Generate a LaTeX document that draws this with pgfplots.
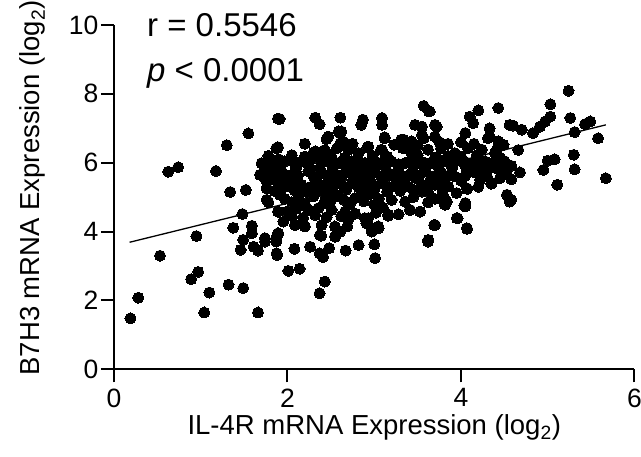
\documentclass[border=0pt]{standalone}
\usepackage{fontspec}
\setmainfont{Liberation Sans}
\usepackage{pgfplots}
\pgfplotsset{compat=1.18}
\begin{document}
\begin{tikzpicture}
\begin{axis}[
  scale only axis, width=520.5pt, height=344.3pt,
  xmin=0, xmax=6, ymin=0, ymax=10,
  axis lines*=left,
  xtick={0,2,4,6}, ytick={0,2,4,6,8,10},
  tick align=outside, major tick length=13pt,
  every tick/.style={line width=2pt, black},
  axis line style={line width=2pt, black},
  /pgf/number format/assume math mode=true,
  ticklabel style={font=\fontsize{26.5}{32}\selectfont},
  yticklabel style={inner sep=2.5pt},
  xticklabel style={inner sep=2pt, yshift=-4pt},
  xlabel={IL-4R mRNA Expression (log\textsubscript{2})},
  ylabel={B7H3 mRNA Expression (log\textsubscript{2})},
  label style={font=\fontsize{27.5}{33}\selectfont},
  xlabel style={at={(axis description cs:0.5,-0.19)}, anchor=base},
  ylabel style={at={(axis description cs:-0.1422,0.5266)}, anchor=base},
  clip=false,
]
\addplot[only marks, mark=*, mark size=5.5pt, mark options={fill=black, draw=black, line width=0pt}] coordinates {
(0.19,1.48) (0.28,2.08) (0.53,3.30) (0.625,5.74) (0.74,5.87) (0.89,2.62) (0.95,3.87) (0.97,2.83)
(1.04,1.65) (1.10,2.23) (1.175,5.76) (1.30,6.51) (1.32,2.46) (1.34,5.15) (1.375,4.11) (1.46,3.47)
(1.48,4.51) (1.49,3.76) (1.49,2.36) (1.52,5.21) (1.55,6.85) (1.59,4.17) (1.59,3.95) (1.61,3.56)
(1.66,3.45) (1.66,1.65) (1.74,3.71) (1.76,5.27) (1.76,4.92) (1.78,4.85) (1.875,3.85) (1.875,3.37)
(1.89,4.58) (1.87,6.42) (1.89,7.28) (1.88,3.32) (2.01,2.86) (2.14,2.92) (2.08,3.50) (2.26,3.56)
(2.37,3.37) (2.41,3.26) (2.37,2.21) (2.43,2.55) (2.48,3.52) (2.67,3.45) (2.82,3.61) (3.00,3.63)
(3.01,3.23) (3.62,3.71) (3.69,4.19) (1.89,3.95) (1.87,3.71) (2.39,3.88) (2.55,3.85) (2.61,4.00)
(2.69,4.15) (2.93,4.39) (2.91,4.24) (3.05,4.10) (2.97,4.00) (3.16,4.46) (3.41,4.63) (3.53,4.58)
(3.96,4.39) (4.07,4.08) (4.04,4.75) (3.81,4.80) (4.56,4.87)
(5.24,8.09) (5.03,7.70) (4.43,7.59) (4.20,7.52) (4.10,7.34) (4.14,7.15) (5.26,7.30) (5.43,7.12)
(5.49,7.20) (5.31,6.89) (5.58,6.71) (5.67,5.55) (5.30,6.23) (5.31,5.81) (5.11,5.36) (4.95,5.79)
(5.00,6.06) (5.08,6.10) (4.83,6.86) (4.91,7.05) (4.97,7.20) (5.03,7.34) (4.70,6.96) (4.56,7.10)
(4.60,7.08) (4.66,6.37) (4.58,5.91) (4.68,5.72) (4.53,5.65) (4.58,5.52) (4.35,5.39) (4.07,5.24)
(4.53,5.07) (4.58,4.92) (4.33,7.00) (4.33,6.76) (4.43,6.62) (4.49,6.52) (4.41,6.37) (4.05,6.86)
(3.70,7.10) (3.64,7.49) (4.37,6.00) (4.41,5.84) (4.18,5.70) (4.26,5.79) (4.05,4.83) (3.80,5.02)
(3.82,4.78)
(1.91,7.27) (2.32,7.31) (2.37,7.12) (2.61,7.31) (2.85,7.10) (2.87,7.25) (3.09,7.30) (3.09,7.10)
(3.57,7.65) (3.63,7.49) (3.47,7.10) (3.55,7.05) (3.72,7.05) (1.88,6.42) (2.59,6.91) (2.62,6.91)
(2.45,6.69) (2.61,6.57) (2.92,6.44) (3.12,6.71) (3.09,6.37) (3.34,6.67) (3.43,6.62) (3.57,6.71)
(2.32,6.33) (2.41,6.33)
(1.72,5.95) (1.78,5.90) (1.85,5.95) (1.90,5.85) (1.72,5.65) (1.80,5.60) (1.88,5.55) (1.75,5.50) (1.85,5.75)
(2.47,6.76) (2.605,6.86) (2.64,6.62) (3.12,6.74) (3.31,6.67) (3.55,6.81) (3.70,6.76) (4.05,6.86)
(4.31,6.71) (4.43,6.62) (1.89,6.45) (2.93,6.47) (3.08,6.38) (2.30,6.30) (2.43,6.37) (2.57,6.42)
(2.70,6.37) (2.82,6.28) (3.23,6.52) (3.33,6.42) (3.42,6.33) (3.62,6.38) (3.77,6.42) (3.93,6.28)
(4.08,6.42) (4.24,6.38) (4.39,6.28)
(1.702,5.99) (1.837,5.99) (1.971,6.04) (2.163,6.04) (2.297,6.13) (2.451,6.04) (2.586,5.99) (2.740,6.04)
(2.893,5.99) (3.047,5.99) (3.201,6.04) (3.355,5.99) (3.509,6.04) (3.663,5.99) (3.817,6.04) (3.971,6.08)
(4.125,5.99) (4.279,6.04) (4.394,5.99)
(1.683,5.65) (1.798,5.70) (1.933,5.75) (2.048,5.65) (2.240,5.75) (2.393,5.70) (2.528,5.75) (2.663,5.70)
(2.855,5.70) (3.009,5.75) (3.163,5.70) (3.278,5.75) (3.432,5.70) (3.586,5.75) (3.778,5.70) (3.932,5.60)
(4.125,5.75) (4.317,5.84)
(1.760,5.26) (1.894,5.41) (2.010,5.31) (2.163,5.36) (2.278,5.31) (2.432,5.36) (2.586,5.41) (2.740,5.41)
(2.913,5.36) (3.086,5.41) (3.240,5.36) (3.355,5.41) (3.547,5.36) (3.701,5.36) (3.855,5.31) (4.067,5.26)
(4.356,5.41)
(1.760,4.92) (1.913,5.07) (2.144,5.12) (2.297,5.02) (2.432,5.07) (2.586,5.02) (2.778,4.97) (2.932,5.07)
(3.201,4.92) (3.355,4.87) (3.547,5.16) (3.778,5.02) (3.836,4.87)
(1.990,4.58) (2.105,4.68) (2.240,4.63) (2.355,4.68) (2.509,4.63) (2.663,4.58) (2.893,4.39) (3.163,4.49)
(3.413,4.63) (3.528,4.58) (4.048,4.73)
(1.952,4.29) (2.086,4.19) (2.201,4.15) (2.393,4.19) (2.547,4.15) (2.701,4.34) (2.970,4.10) (3.047,4.15)
(3.701,4.19) (3.951,4.39) (4.067,4.10)
(1.740,3.81) (1.894,3.95) (2.374,3.90) (2.547,3.86) (3.624,3.76)
(1.78,6.20) (2.05,6.22) (2.20,6.18) (2.50,6.20) (2.66,6.15) (2.98,6.20) (3.15,6.18) (3.50,6.22)
(3.70,6.15) (3.85,6.20) (4.00,6.18) (4.18,6.22) (4.45,6.15)
(1.77,5.85) (1.92,5.88) (2.10,5.85) (2.25,5.90) (2.37,5.82) (2.52,5.88) (2.68,5.85) (2.80,5.90)
(2.97,5.84) (3.13,5.88) (3.28,5.85) (3.45,5.88) (3.58,5.82) (3.74,5.88) (3.90,5.85) (4.05,5.90)
(4.20,5.88) (4.48,5.80)
(1.85,5.50) (2.00,5.52) (2.12,5.48) (2.33,5.55) (2.48,5.50) (2.62,5.55) (2.80,5.52) (2.95,5.50)
(3.12,5.55) (3.30,5.52) (3.48,5.55) (3.65,5.52) (3.80,5.50) (4.00,5.48) (4.22,5.50)
(1.85,5.18) (2.08,5.20) (2.22,5.15) (2.37,5.20) (2.52,5.18) (2.68,5.22) (2.85,5.18) (3.00,5.22)
(3.15,5.15) (3.30,5.18) (3.45,5.22) (3.62,5.15) (3.95,5.12)
(2.05,4.85) (2.20,4.80) (2.42,4.82) (2.72,4.80) (3.00,4.78) (3.10,4.70) (3.62,4.85)
(1.77,6.06) (1.90,6.10) (2.08,6.00) (2.23,5.98) (2.38,6.10) (2.52,6.08) (2.66,5.96) (2.81,6.10)
(2.96,6.02) (3.12,6.10) (3.28,5.96) (3.43,6.10) (3.58,6.00) (3.74,6.10) (3.89,5.95) (4.05,6.02)
(4.20,6.10) (4.34,5.92) (4.50,6.05)
(1.90,5.62) (2.12,5.62) (2.30,5.60) (2.46,5.64) (2.60,5.62) (2.76,5.60) (2.92,5.62) (3.08,5.60)
(3.22,5.62) (3.37,5.60) (3.52,5.62) (3.70,5.62) (3.86,5.62) (4.05,5.62) (4.30,5.60) (4.45,5.55)
(1.95,5.28) (2.10,5.30) (2.33,5.30) (2.50,5.28) (2.65,5.30) (2.82,5.28) (3.00,5.32) (3.18,5.28)
(3.40,5.30) (3.58,5.28) (3.78,5.25) (4.20,5.30)
(1.97,4.95) (2.12,4.95) (2.50,4.90) (2.65,4.92) (2.88,4.88) (3.05,4.95) (3.45,5.00) (3.70,4.95)
(2.05,4.45) (2.18,4.40) (2.32,4.48) (2.45,4.42) (2.62,4.45) (2.78,4.52) (3.02,4.55) (3.28,4.50)
(3.85,6.55) (4.00,6.60) (4.15,6.55) (3.75,6.60) (3.50,6.50) (2.75,6.55) (2.20,6.55)
};
\addplot[black, line width=1.3pt] coordinates {(0.18,3.69) (5.67,7.10)};
\node[anchor=base west, font=\fontsize{33}{40}\selectfont, inner sep=0pt] at (axis cs:0.38,9.67) {r = 0.5546};
\node[anchor=base west, font=\fontsize{33}{40}\selectfont, inner sep=0pt] at (axis cs:0.38,8.36) {\textit{p} < 0.0001};
\end{axis}
\pgfresetboundingbox
\path[use as bounding box] (-114pt,-86.7pt) rectangle (527pt,369.3pt);
\end{tikzpicture}
\end{document}
